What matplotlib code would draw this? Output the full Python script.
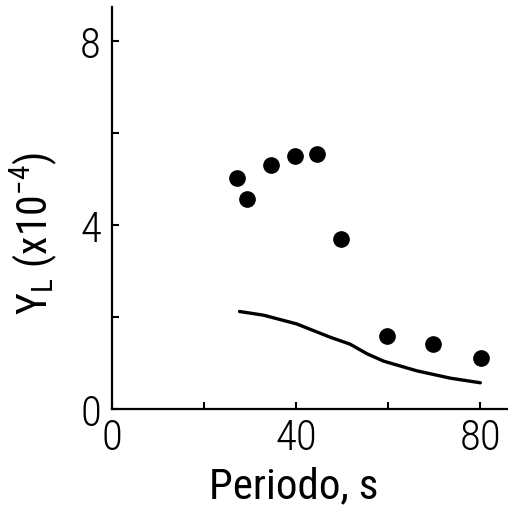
import numpy as np
import matplotlib
matplotlib.use('Agg')
import matplotlib.pyplot as plt
from matplotlib.ticker import MultipleLocator, NullFormatter

# measured points (periodo [s], Y_L x1e-4)
periodo_pts = [27.2, 29.3, 34.6, 39.8, 44.6, 49.8, 59.8, 69.8, 80.2]
yl_pts = [5.02, 4.57, 5.30, 5.50, 5.54, 3.70, 1.59, 1.41, 1.11]

# theoretical curve
periodo_curve = [27.7, 32.9, 40.1, 47.4, 51.7, 55.4, 59.0, 66.2, 73.5, 80.0]
yl_curve = [2.12, 2.04, 1.85, 1.56, 1.41, 1.20, 1.04, 0.83, 0.67, 0.57]

font = 'Roboto Condensed'
plt.rcParams['font.family'] = [font, 'DejaVu Sans']
plt.rcParams['font.weight'] = 'light'
plt.rcParams['mathtext.fontset'] = 'custom'
plt.rcParams['mathtext.rm'] = font + ':light'
plt.rcParams['mathtext.it'] = font + ':light'

fig = plt.figure(figsize=(5.08, 5.10), dpi=100)
ax = fig.add_axes([112 / 508, 100 / 510, (508 - 112) / 508, (410 - 8) / 510])

ax.plot(periodo_pts, yl_pts, 'o', color='black', markersize=11)
ax.plot(periodo_curve, yl_curve, '-', color='black', linewidth=2.4,
        solid_capstyle='round', solid_joinstyle='round')

ax.set_xlim(0, 86)
ax.set_ylim(0, 8.74)

for s in ['top', 'right']:
    ax.spines[s].set_visible(False)
for s in ['left', 'bottom']:
    ax.spines[s].set_linewidth(1.6)

ax.xaxis.set_major_locator(MultipleLocator(40))
ax.xaxis.set_minor_locator(MultipleLocator(20))
ax.yaxis.set_major_locator(MultipleLocator(4))
ax.yaxis.set_minor_locator(MultipleLocator(2))
ax.xaxis.set_minor_formatter(NullFormatter())
ax.yaxis.set_minor_formatter(NullFormatter())
ax.tick_params(which='both', direction='in', length=5, width=1.5)
ax.tick_params(axis='x', which='major', labelsize=31, pad=6)
ax.tick_params(axis='y', which='major', labelsize=31, pad=8)

ax.set_xlabel('Periodo, s', fontsize=31)
ax.xaxis.set_label_coords(0.46, -0.14)
ax.set_ylabel(r'$\mathregular{Y_L\ (x10^{-4})}$', fontsize=30)
ax.yaxis.set_label_coords(-0.135, 0.44)

fig.savefig('out.png', dpi=100)
